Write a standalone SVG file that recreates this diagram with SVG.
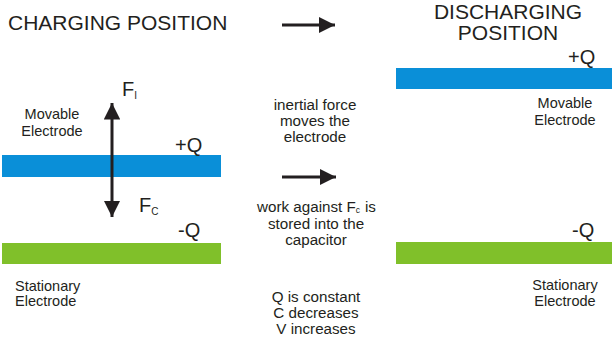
<svg xmlns="http://www.w3.org/2000/svg" width="612" height="347" viewBox="0 0 612 347">
<defs>
<marker id="ah" viewBox="0 0 10 10" refX="10" refY="5" markerWidth="5.5" markerHeight="5.5" markerUnits="strokeWidth" orient="auto-start-reverse">
<path d="M0,0 L10,5 L0,10 Z" fill="#231f20"/>
</marker>
<style>
text{font-family:"Liberation Sans",Arial,sans-serif;fill:#231f20}
.t{font-size:21px}
.q{font-size:20px}
.s{font-size:14.5px}
.m{font-size:15.2px}
.c{text-anchor:middle}
.blue{fill:#0a8fd8}
.green{fill:#80c02a}
.ar{stroke:#231f20;stroke-width:3;fill:none;marker-end:url(#ah)}
</style>
</defs>
<rect width="612" height="347" fill="#fff"/>
<text class="t" x="8" y="30">CHARGING POSITION</text>
<text class="t c" x="508" y="19">DISCHARGING</text>
<text class="t c" x="508" y="40">POSITION</text>
<g id="left-movable">
<rect class="blue" x="2" y="155" width="219" height="22"/>
<text class="q" x="175" y="152">+Q</text>
<text class="s c" x="52" y="119">Movable</text>
<text class="s c" x="52" y="136">Electrode</text>
</g>
<g id="left-stationary">
<rect class="green" x="2" y="243" width="219" height="21"/>
<text class="q" x="178" y="237">-Q</text>
<text class="s" x="15" y="291">Stationary</text>
<text class="s" x="15" y="306">Electrode</text>
</g>
<g id="forces">
<text class="q" x="122" y="96">F<tspan font-size="10" dy="3">I</tspan></text>
<text class="q" x="139" y="212">F<tspan font-size="10" dy="3">C</tspan></text>
</g>
<g id="right-movable">
<rect class="blue" x="396" y="68" width="216" height="21"/>
<text class="q" x="568" y="64">+Q</text>
<text class="s c" x="565" y="108">Movable</text>
<text class="s c" x="565" y="125">Electrode</text>
</g>
<g id="right-stationary">
<rect class="green" x="396" y="242" width="216" height="22"/>
<text class="q" x="572" y="237">-Q</text>
<text class="s c" x="565" y="290">Stationary</text>
<text class="s c" x="565" y="306">Electrode</text>
</g>
<g id="middle-text">
<text class="m c" x="315" y="110">inertial force</text>
<text class="m c" x="315" y="126">moves the</text>
<text class="m c" x="315" y="142">electrode</text>
<text class="m" x="257" y="212">work against F<tspan font-size="8.5" dy="1">c</tspan></text>
<text class="m" x="365" y="212">is</text>
<text class="m c" x="316" y="229">stored into the</text>
<text class="m c" x="316" y="245">capacitor</text>
<text class="m c" x="316" y="302">Q is constant</text>
<text class="m c" x="316" y="318">C decreases</text>
<text class="m c" x="316" y="334">V increases</text>
</g>
<g id="connectors">
<path class="ar" d="M112,166 L112,103"/>
<path class="ar" d="M112,166 L112,217"/>
<path class="ar" d="M282,25 L335,25"/>
<path class="ar" d="M282,177 L336,177"/>
</g>
</svg>
